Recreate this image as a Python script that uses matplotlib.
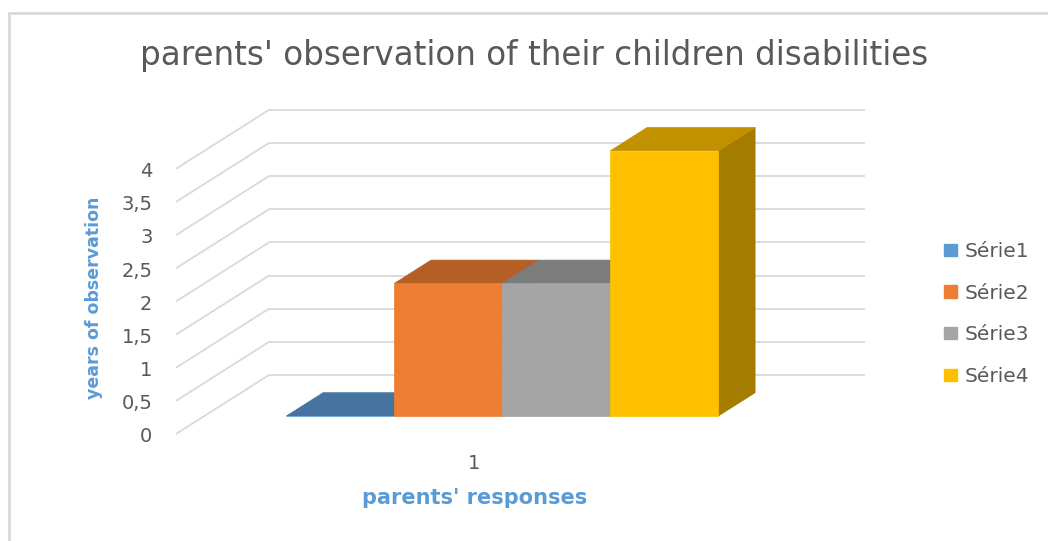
import matplotlib.pyplot as plt
from matplotlib.patches import Polygon, Patch, Rectangle

# data
categories = ['1']
series_names = ['Série1', 'Série2', 'Série3', 'Série4']
values = [0, 2, 2, 4]
y_ticks = [0, 0.5, 1, 1.5, 2, 2.5, 3, 3.5, 4]
y_tick_labels = ['0', '0,5', '1', '1,5', '2', '2,5', '3', '3,5', '4']

front_colors = ['#5B9BD5', '#ED7D31', '#A5A5A5', '#FFC000']
top_colors = ['#46739F', '#B45F26', '#7C7C7C', '#C29100']
side_colors = ['#3B6388', '#9C5221', '#6B6B6B', '#A37C00']

text_gray = '#595959'
label_blue = '#5B9BD5'
grid_gray = '#D9D9D9'

W, H = 1048, 541
fig = plt.figure(figsize=(W / 100, H / 100), dpi=100)

# pixel layout of the front plane (one category = 0.5 .. 1.5)
front_left_px, front_right_px = 176, 772
zero_px = 434            # y of value 0 (from top)
px_per_unit = 66.3
cat_px = front_right_px - front_left_px

ax = fig.add_axes([0, 0, 1, 1])
x_lo = 0.5 - front_left_px / cat_px
ax.set_xlim(x_lo, x_lo + W / cat_px)
ax.set_ylim(-(H - zero_px) / px_per_unit, zero_px / px_per_unit)
ax.axis('off')

# oblique depth (full floor depth) in data units
ddx = 93 / cat_px
ddy = 59 / px_per_unit
d0, d1 = 0.305, 0.70     # bar depth range

x_left, x_right = 0.5, 1.5

# walls: gridlines on side wall and back wall
for v, lab in zip(y_ticks, y_tick_labels):
    ax.plot([x_left, x_left + ddx], [v, v + ddy], color=grid_gray, lw=1.3,
            solid_capstyle='butt', zorder=1)
    ax.plot([x_left + ddx, x_right + ddx], [v + ddy, v + ddy], color=grid_gray,
            lw=1.3, solid_capstyle='butt', zorder=1)
    ax.annotate(lab, (x_left, v), xytext=(-17, -2),
                textcoords='offset points', ha='right', va='center',
                fontsize=14, color=text_gray)

# bars
bw = 108 / cat_px
start = 1.0 - bw * len(values) / 2
ox0, oy0 = d0 * ddx, d0 * ddy
ox1, oy1 = d1 * ddx, d1 * ddy
for i, v in enumerate(values):
    x0 = start + i * bw
    x1 = x0 + bw
    side = [(x1 + ox0, oy0), (x1 + ox1, oy1), (x1 + ox1, v + oy1), (x1 + ox0, v + oy0)]
    top = [(x0 + ox0, v + oy0), (x1 + ox0, v + oy0), (x1 + ox1, v + oy1), (x0 + ox1, v + oy1)]
    front = [(x0 + ox0, oy0), (x1 + ox0, oy0), (x1 + ox0, v + oy0), (x0 + ox0, v + oy0)]
    for pts, c in ((side, side_colors[i]), (top, top_colors[i]), (front, front_colors[i])):
        ax.add_patch(Polygon(pts, closed=True, facecolor=c, edgecolor=c, lw=0.5, zorder=2 + i))

# category label
ax.annotate(categories[0], (1.0, 0), xytext=(0, -21), textcoords='offset points',
            ha='center', va='center', fontsize=14, color=text_gray)

# title and axis titles
fig.text(534 / W, 1 - 56 / H, "parents' observation of their children disabilities",
         ha='center', va='center', fontsize=23.5, color=text_gray)
fig.text(475 / W, 1 - 498 / H, "parents' responses", ha='center', va='center',
         fontsize=15, fontweight='bold', color=label_blue)
fig.text(94 / W, 1 - 298 / H, 'years of observation', ha='center', va='center',
         rotation=90, fontsize=12.5, fontweight='bold', color=label_blue)

# legend
handles = [Patch(facecolor=c, edgecolor=c) for c in front_colors]
fig.legend(handles, series_names, loc='center left', bbox_to_anchor=(944 / W, 1 - 314 / H),
           frameon=False, fontsize=14.5, labelcolor=text_gray, handlelength=0.65,
           handleheight=0.55, handletextpad=0.35, labelspacing=1.13, borderpad=0,
           borderaxespad=0)

# chart border (left and top edges visible)
fig.add_artist(Rectangle((9 / W, -0.2), 2, 1 - 13 / H + 0.2, transform=fig.transFigure,
                         fill=False, edgecolor=grid_gray, lw=2))

fig.savefig('out.png', dpi=100)
